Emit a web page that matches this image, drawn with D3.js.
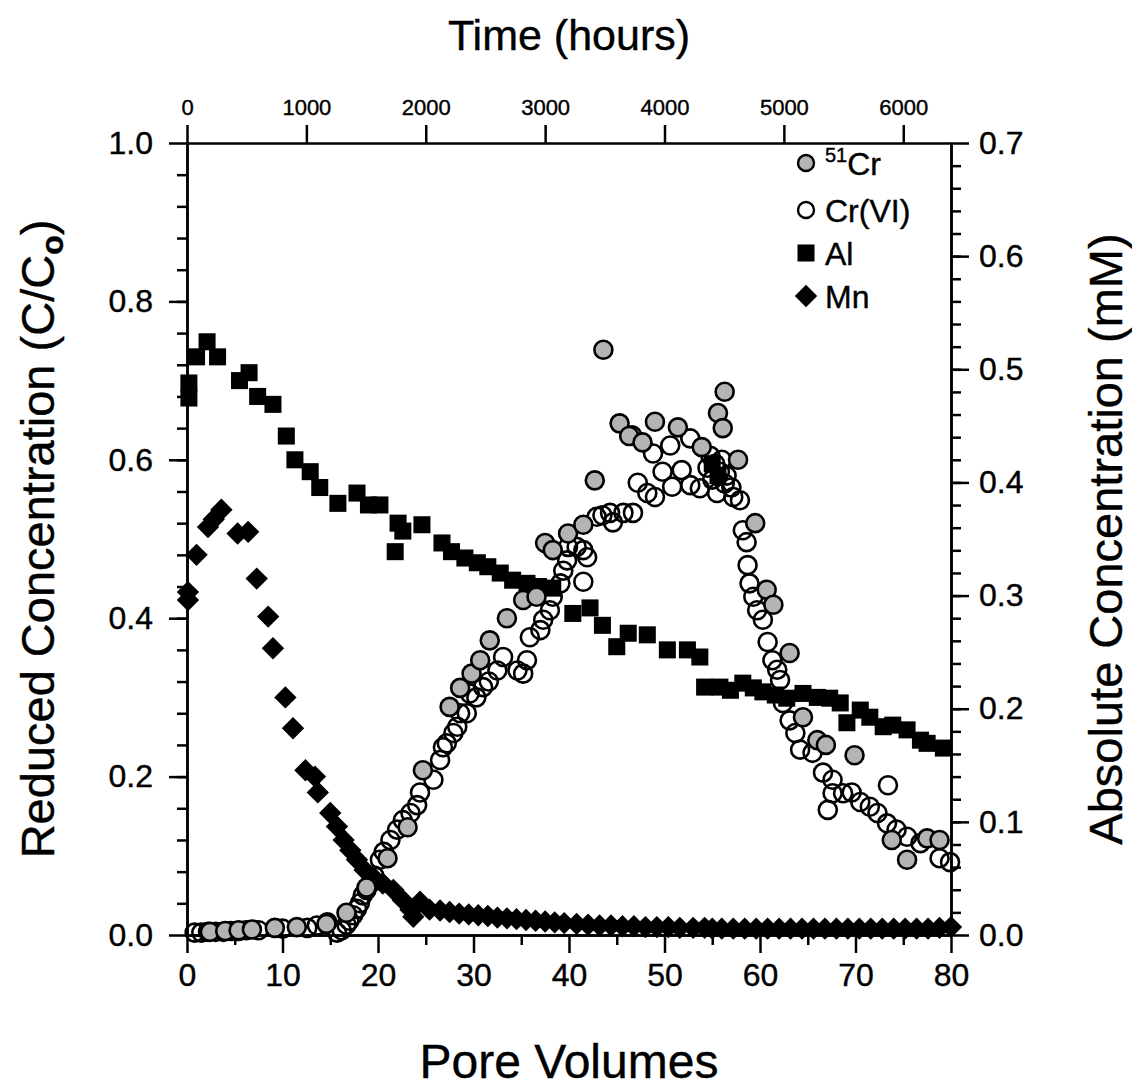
<!DOCTYPE html>
<html>
<head>
<meta charset="utf-8">
<script src="https://cdn.jsdelivr.net/npm/d3@7"></script>
<style>
  body { margin: 0; background: #fff; }
  svg { font-family: "Liberation Sans", Arial, sans-serif; }
  text { stroke: #000; stroke-width: 0.4px; }
</style>
</head>
<body>
<svg id="chart"></svg>
<script>
const width = 1132, height = 1088;

// [pore volumes, C/Co]
const cr51 = [
  [2.4,0.004],[4.0,0.005],[5.4,0.006],[6.8,0.007],[9.2,0.009],[11.5,0.01],[14.6,0.014],
  [16.7,0.028],[18.8,0.06],[21.0,0.097],[23.1,0.136],[24.7,0.208],[27.5,0.288],[28.6,0.312],
  [29.8,0.33],[30.7,0.347],[31.7,0.372],[33.5,0.40],[35.2,0.423],[36.6,0.427],[37.5,0.495],
  [38.3,0.486],[39.9,0.507],[41.5,0.518],[42.7,0.574],[43.6,0.739],[45.3,0.646],[46.3,0.63],
  [47.7,0.622],[49.0,0.648],[51.4,0.641],[53.9,0.616],[55.6,0.659],[56.1,0.64],[56.3,0.686],
  [57.7,0.60],[59.5,0.52],[60.7,0.436],[61.4,0.417],[63.1,0.356],[64.5,0.275],[66.0,0.246],
  [66.9,0.24],[69.9,0.227],[73.8,0.12],[75.4,0.095],[77.5,0.122],[78.8,0.12]
];
const crVI = [
  [0.8,0.003],[1.5,0.003],[2.2,0.004],[3.0,0.004],[3.8,0.004],[4.6,0.005],[5.4,0.005],
  [6.2,0.006],[7.5,0.006],[10.0,0.008],[12.6,0.009],[13.6,0.012],[14.7,0.016],[15.7,0.003],
  [16.2,0.006],[16.7,0.013],[17.0,0.018],[17.4,0.025],[17.8,0.033],[18.1,0.04],[18.4,0.05],
  [18.8,0.057],[19.2,0.065],[19.6,0.075],[20.2,0.095],[20.6,0.105],[21.3,0.12],[22.0,0.133],
  [22.6,0.145],[23.4,0.154],[24.1,0.164],[24.4,0.18],[25.8,0.196],[26.5,0.221],[26.8,0.237],
  [27.2,0.242],[27.9,0.255],[28.3,0.263],[28.6,0.28],[29.3,0.28],[29.6,0.305],[30.3,0.30],
  [31.0,0.313],[31.6,0.32],[32.5,0.334],[33.1,0.351],[34.6,0.334],[35.2,0.33],[35.6,0.347],
  [35.9,0.376],[37.0,0.385],[37.3,0.398],[38.0,0.41],[38.3,0.427],[39.1,0.444],[39.4,0.46],
  [39.8,0.473],[39.9,0.49],[40.8,0.49],[41.5,0.446],[41.5,0.486],[41.9,0.477],[42.9,0.528],
  [43.5,0.53],[44.3,0.533],[44.6,0.521],[45.7,0.533],[46.6,0.631],[46.7,0.533],[47.2,0.571],
  [48.2,0.558],[48.8,0.608],[49.0,0.553],[49.8,0.585],[50.6,0.618],[50.8,0.566],[51.8,0.587],
  [52.7,0.627],[52.7,0.568],[53.7,0.564],[54.5,0.59],[54.8,0.605],[55.0,0.575],[55.3,0.595],
  [55.5,0.558],[55.8,0.585],[56.0,0.60],[56.3,0.57],[56.5,0.58],[57.0,0.565],[57.2,0.553],
  [57.9,0.549],[58.2,0.511],[58.6,0.496],[58.7,0.467],[58.9,0.444],[59.3,0.427],[59.7,0.41],
  [60.3,0.398],[60.8,0.37],[61.3,0.347],[61.8,0.335],[62.1,0.322],[62.4,0.293],[63.1,0.271],
  [63.7,0.255],[64.2,0.234],[65.5,0.23],[66.6,0.205],[67.1,0.158],[67.6,0.196],[67.6,0.179],
  [68.7,0.179],[69.6,0.18],[70.5,0.168],[71.5,0.162],[72.3,0.154],[73.3,0.141],[73.4,0.189],
  [74.3,0.133],[75.4,0.124],[76.8,0.116],[78.8,0.097],[79.9,0.092]
];
const al = [
  [0.2,0.697],[0.2,0.678],[1.0,0.73],[2.1,0.749],[3.2,0.73],[5.5,0.70],[6.5,0.71],[7.4,0.68],
  [9.0,0.67],[10.4,0.63],[11.3,0.60],[12.9,0.585],[13.9,0.565],[15.8,0.545],[17.8,0.558],
  [19.0,0.543],[20.2,0.543],[21.8,0.484],[22.1,0.52],[22.6,0.51],[24.6,0.518],[26.7,0.495],
  [27.7,0.484],[29.1,0.476],[30.4,0.47],[31.5,0.465],[32.8,0.457],[34.1,0.448],[35.6,0.444],
  [36.8,0.44],[38.3,0.438],[40.4,0.406],[42.2,0.413],[43.5,0.391],[45.0,0.364],[46.2,0.381],
  [48.2,0.379],[50.3,0.36],[52.4,0.36],[53.7,0.351],[54.2,0.313],[55.8,0.313],[56.9,0.309],
  [55.0,0.595],[55.6,0.58],
  [58.2,0.318],[59.3,0.312],[60.3,0.307],[61.6,0.303],[62.8,0.299],[64.5,0.305],[66.0,0.30],
  [67.3,0.299],[68.4,0.293],[69.1,0.268],[70.5,0.284],[71.5,0.275],[72.9,0.263],[73.9,0.265],
  [75.4,0.259],[76.8,0.246],[77.5,0.242],[79.2,0.236]
];
const mn = [
  [0.1,0.433],[0.1,0.423],[1.0,0.48],[2.2,0.515],[2.8,0.525],[3.6,0.537],[5.3,0.507],
  [6.4,0.509],[7.3,0.45],[8.5,0.402],[9.0,0.362],[10.3,0.30],[11.1,0.261],[12.4,0.208],
  [13.4,0.20],[13.7,0.18],[15.0,0.154],[15.7,0.137],[16.4,0.12],[17.1,0.107],[17.8,0.095],
  [18.6,0.082],[19.5,0.073],[20.5,0.065],[21.6,0.057],[22.6,0.044],[23.4,0.032],[23.7,0.023],
  [24.4,0.042],[25.4,0.032],[26.5,0.031],[27.5,0.029],[28.5,0.027],[29.5,0.026],[30.5,0.025],
  [31.5,0.024],[32.5,0.022],[33.5,0.021],[34.5,0.02],[35.5,0.019],[36.5,0.018],[37.5,0.017],
  [38.5,0.016],[39.5,0.015],[40.8,0.014],[42.0,0.013],[43.2,0.012],[44.4,0.012],[45.6,0.011],
  [46.8,0.011],[48.0,0.01],[49.2,0.01],[50.4,0.01],[51.6,0.009],[53.0,0.009],[54.2,0.009],
  [55.0,0.008],[56.0,0.008],[57.2,0.008],[58.4,0.008],[59.6,0.008],[60.8,0.008],[62.0,0.008],
  [63.2,0.008],[64.4,0.008],[65.6,0.008],[66.8,0.008],[68.0,0.008],[69.2,0.008],[70.4,0.008],
  [71.6,0.008],[72.8,0.008],[74.0,0.008],[75.2,0.008],[76.4,0.008],[77.6,0.008],[78.8,0.009],
  [80.0,0.01]
];

const bottomTicks = [0, 10, 20, 30, 40, 50, 60, 70, 80];
const topTicks = [0, 1000, 2000, 3000, 4000, 5000, 6000];
const leftTicks = [0, 0.2, 0.4, 0.6, 0.8, 1.0];
const rightTicks = [0, 0.1, 0.2, 0.3, 0.4, 0.5, 0.6, 0.7];

const plotL = 187, plotR = 951, plotT = 143, plotB = 935;

const svg = d3.select("#chart").attr("width", width).attr("height", height);

const x = d3.scaleLinear().domain([0, 80]).range([plotL, plotR]);
const xTime = d3.scaleLinear().domain([0, 6400]).range([plotL, plotR]);
const y = d3.scaleLinear().domain([0, 1]).range([plotB, plotT]);
const yAbs = d3.scaleLinear().domain([0, 0.7]).range([plotB, plotT]);

const tickStyle = (g, size) => {
    g.select(".domain").attr("stroke", "#000").attr("stroke-width", 2.5);
    g.selectAll(".tick line").attr("stroke", "#000").attr("stroke-width", 2.5);
    g.selectAll(".tick text").attr("fill", "#000").style("font-size", size + "px");
};

// minor ticks first, then major ones over them
svg.append("g").attr("transform", `translate(0,${plotB})`)
    .call(d3.axisBottom(x).tickValues(d3.range(5, 80, 10)).tickSize(10).tickFormat("").tickSizeOuter(0))
    .call(g => tickStyle(g, 28));
svg.append("g").attr("transform", `translate(0,${plotB})`)
    .call(d3.axisBottom(x).tickValues(bottomTicks).tickSize(18).tickPadding(10).tickSizeOuter(0))
    .call(g => tickStyle(g, 32));

svg.append("g").attr("transform", `translate(0,${plotT})`)
    .call(d3.axisTop(xTime).tickValues(topTicks).tickSize(18).tickPadding(10).tickFormat(d3.format("d")).tickSizeOuter(0))
    .call(g => tickStyle(g, 22));

svg.append("g").attr("transform", `translate(${plotL},0)`)
    .call(d3.axisLeft(y).tickValues(d3.range(0.04, 1, 0.04)).tickSize(10).tickFormat("").tickSizeOuter(0))
    .call(g => tickStyle(g, 28));
svg.append("g").attr("transform", `translate(${plotL},0)`)
    .call(d3.axisLeft(y).tickValues(leftTicks).tickSize(18).tickPadding(16).tickFormat(d3.format(".1f")).tickSizeOuter(0))
    .call(g => tickStyle(g, 32));

svg.append("g").attr("transform", `translate(${plotR},0)`)
    .call(d3.axisRight(yAbs).tickValues(d3.range(0.02, 0.7, 0.02)).tickSize(10).tickFormat("").tickSizeOuter(0))
    .call(g => tickStyle(g, 28));
svg.append("g").attr("transform", `translate(${plotR},0)`)
    .call(d3.axisRight(yAbs).tickValues(rightTicks).tickSize(18).tickPadding(10).tickFormat(d3.format(".1f")).tickSizeOuter(0))
    .call(g => tickStyle(g, 32));

// axis titles
svg.append("text").attr("x", (plotL + plotR) / 2).attr("y", 1078)
    .attr("text-anchor", "middle").style("font-size", "48px").text("Pore Volumes");
svg.append("text").attr("x", (plotL + plotR) / 2).attr("y", 50)
    .attr("text-anchor", "middle").style("font-size", "43px").text("Time (hours)");

const yTitle = svg.append("text")
    .attr("transform", `translate(54,${(plotT + plotB) / 2}) rotate(-90)`)
    .attr("text-anchor", "middle").style("font-size", "47px");
yTitle.append("tspan").text("Reduced Concentration (C/C");
yTitle.append("tspan").attr("dy", 9).style("font-size", "32px").style("font-weight", "bold").text("o");
yTitle.append("tspan").attr("dy", -9).text(")");

svg.append("text")
    .attr("transform", `translate(1122,${(plotT + plotB) / 2}) rotate(-90)`)
    .attr("text-anchor", "middle").style("font-size", "47px").text("Absolute Concentration (mM)");

// markers
const symSquare = d3.symbol().type(d3.symbolSquare).size(290);
const symDiamond = d3.symbol().type(d3.symbolSquare).size(250);

svg.append("g").selectAll("path")
    .data(mn).enter().append("path")
    .attr("d", symDiamond)
    .attr("transform", d => `translate(${x(d[0])},${y(d[1])}) rotate(45)`)
    .attr("fill", "#000");

svg.append("g").selectAll("path")
    .data(al).enter().append("path")
    .attr("d", symSquare)
    .attr("transform", d => `translate(${x(d[0])},${y(d[1])})`)
    .attr("fill", "#000");

svg.append("g").selectAll("circle")
    .data(crVI).enter().append("circle")
    .attr("cx", d => x(d[0])).attr("cy", d => y(d[1])).attr("r", 9)
    .attr("fill", "none").attr("stroke", "#000").attr("stroke-width", 2.6);

svg.append("g").selectAll("circle")
    .data(cr51).enter().append("circle")
    .attr("cx", d => x(d[0])).attr("cy", d => y(d[1])).attr("r", 9)
    .attr("fill", "#b4b4b4").attr("stroke", "#000").attr("stroke-width", 2.6);

// legend
const legend = svg.append("g");
const legendY = [163, 210, 253, 296];
legend.append("circle").attr("cx", 806).attr("cy", legendY[0]).attr("r", 8)
    .attr("fill", "#b4b4b4").attr("stroke", "#000").attr("stroke-width", 2.4);
legend.append("circle").attr("cx", 806).attr("cy", legendY[1]).attr("r", 8)
    .attr("fill", "none").attr("stroke", "#000").attr("stroke-width", 2.4);
legend.append("path").attr("d", symSquare).attr("transform", `translate(806,${legendY[2]})`);
legend.append("path").attr("d", symDiamond).attr("transform", `translate(806,${legendY[3]}) rotate(45)`);

const lab = legend.append("text").attr("x", 825).attr("y", legendY[0] + 12).style("font-size", "32px");
lab.append("tspan").attr("dy", -13).style("font-size", "20px").text("51");
lab.append("tspan").attr("dy", 13).text("Cr");
legend.append("text").attr("x", 825).attr("y", legendY[1] + 12).style("font-size", "32px").text("Cr(VI)");
legend.append("text").attr("x", 825).attr("y", legendY[2] + 12).style("font-size", "32px").text("Al");
legend.append("text").attr("x", 825).attr("y", legendY[3] + 12).style("font-size", "32px").text("Mn");
</script>
</body>
</html>
